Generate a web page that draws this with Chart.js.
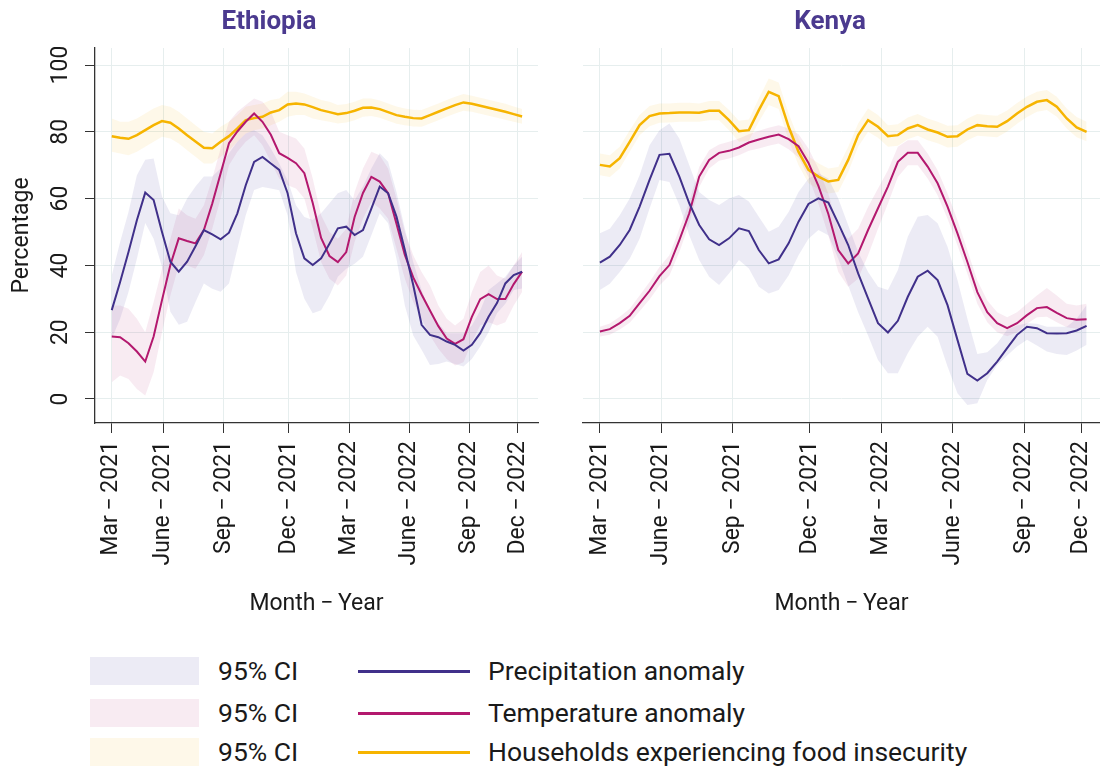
<!DOCTYPE html>
<html>
<head>
<meta charset="utf-8">
<script src="https://cdn.jsdelivr.net/npm/chart.js@4.4.0/dist/chart.umd.min.js"></script>
<style>
  body { margin: 0; background: #fff; font-family: Roboto, sans-serif; color: #1a1a1a; }
  #wrap { position: relative; width: 1100px; height: 771px; overflow: hidden; }
  canvas { position: absolute; top: 0; }
  #eth { left: 0; }
  #ken { left: 560px; }
  .sw, .ln, .lt { position: absolute; }
  .sw { left: 90px; width: 109px; height: 28px; }
  .ln { left: 358px; width: 112px; height: 2.5px; }
  .lt { font-size: 26.5px; line-height: 28px; height: 28px; white-space: nowrap; }
</style>
</head>
<body>
<div id="wrap">
  <canvas id="eth" width="560" height="640"></canvas>
  <canvas id="ken" width="540" height="640"></canvas>

  <div class="sw" style="top:657px;background:rgba(70,60,160,0.1)"></div>
  <div class="lt" style="left:218px;top:657px">95% CI</div>
  <div class="ln" style="top:670px;background:#40308a"></div>
  <div class="lt" style="left:488px;top:657px">Precipitation anomaly</div>

  <div class="sw" style="top:699px;background:rgba(180,30,110,0.09)"></div>
  <div class="lt" style="left:218px;top:699px">95% CI</div>
  <div class="ln" style="top:712px;background:#b3186e"></div>
  <div class="lt" style="left:488px;top:699px">Temperature anomaly</div>

  <div class="sw" style="top:738px;background:rgba(250,190,40,0.1)"></div>
  <div class="lt" style="left:218px;top:738px">95% CI</div>
  <div class="ln" style="top:751px;background:#f6b400"></div>
  <div class="lt" style="left:488px;top:738px">Households experiencing food insecurity</div>
</div>
<script>
// x axis: observation index 0..49, ticks placed where the month labels sit
const xTickPos = [0, 6.2, 13.4, 21.15, 28.35, 35.55, 42.75, 48.5];
const xTickLabels = ['Mar\u2009−\u20092021', 'June\u2009−\u20092021', 'Sep\u2009−\u20092021', 'Dec\u2009−\u20092021',
    'Mar\u2009−\u20092022', 'June\u2009−\u20092022', 'Sep\u2009−\u20092022', 'Dec\u2009−\u20092022'];
const yTickVals = [0, 20, 40, 60, 80, 100];

// Ethiopia
const ethPrecip = [26.6, 35.0, 44.0, 53.5, 61.8, 59.6, 50.0, 41.1, 38.1, 41.1, 45.7, 50.6, 49.3, 47.8, 49.8, 55.6, 64.0, 71.0, 72.5, 70.5, 68.6, 61.6, 49.6, 42.1, 40.1, 42.1, 46.5, 51.1, 51.6, 49.1, 50.6, 57.0, 63.6, 61.6, 54.6, 44.6, 34.1, 22.2, 19.2, 18.5, 17.2, 16.2, 14.5, 16.2, 19.7, 24.6, 28.7, 34.6, 37.1, 38.1];
const ethPrecipLo = [18, 24, 32, 42, 52.7, 48, 39.6, 26.1, 22.2, 23.1, 29, 34.6, 33, 32.1, 34.6, 45, 55, 62.6, 63.5, 63, 62.5, 55, 38, 30, 25.7, 26.6, 31, 36.6, 39, 40.5, 42.6, 49, 55.6, 52.6, 42, 28, 19, 14.7, 10.2, 10.5, 11.2, 10.5, 9.7, 12, 15.7, 20, 25.7, 28.5, 32.6, 33.1];
const ethPrecipHi = [37, 47, 56, 67, 71.6, 72, 60.6, 55.6, 55, 60, 63.6, 66.6, 66.6, 69, 73.6, 77, 79.5, 80.5, 79, 75, 70.5, 65.5, 58, 54.5, 53.6, 55.6, 58.6, 61.6, 62.6, 59.5, 63.6, 69, 73.6, 71, 62, 51, 41, 32.6, 26, 22.7, 19.7, 19.7, 19.7, 22, 26.5, 32.6, 34.6, 36.6, 40, 42.6];
const ethTemp = [18.7, 18.5, 16.7, 14.2, 11.2, 18.7, 29.6, 40.1, 48.1, 47.3, 46.6, 50.6, 58.5, 67.5, 76.6, 80.1, 83.0, 85.5, 83.0, 79.1, 73.6, 72.2, 70.6, 67.6, 58.7, 48.2, 42.8, 41.0, 44.0, 54.5, 61.7, 66.5, 65.1, 61.6, 52.5, 43.1, 36.4, 31.3, 26.5, 21.8, 18.1, 16.5, 17.9, 24.6, 29.9, 31.4, 29.9, 29.9, 34.4, 38.1];
const ethTempLo = [5, 7, 6, 3, 1, 8, 20, 31, 40, 40, 39, 43, 51, 60, 70, 74, 77, 79, 76, 71, 66, 64, 63, 60, 51, 41, 36, 34, 37, 47, 54, 59, 57, 54, 45, 36, 29, 24, 19, 15, 12, 10, 11, 17, 22, 23, 22, 23, 28, 32];
const ethTempHi = [28, 28, 27, 24, 20, 29, 39, 48, 57, 55, 54, 58, 66, 75, 83, 86, 88, 90, 89, 86, 80, 79, 78, 75, 66, 55, 50, 48, 51, 62, 69, 74, 73, 69, 60, 50, 43, 38, 34, 28, 24, 22, 24, 32, 38, 40, 37, 36, 40, 44];
const ethFood = [78.7, 78.2, 77.9, 79.0, 80.5, 82.0, 83.2, 82.7, 81.0, 79.0, 77.1, 75.2, 75.1, 77.0, 78.7, 81.0, 83.5, 84.1, 84.5, 85.8, 86.5, 88.2, 88.5, 88.2, 87.4, 86.5, 85.9, 85.3, 85.6, 86.3, 87.2, 87.3, 86.8, 85.9, 85.0, 84.5, 84.1, 84.0, 85.0, 86.0, 87.0, 88.0, 88.8, 88.4, 87.8, 87.2, 86.6, 86.0, 85.3, 84.6];
const ethFoodLo = [74, 73.5, 73, 74, 75.5, 77, 78.5, 78, 76.5, 74.5, 72.5, 70.5, 70.5, 72.5, 74.5, 77, 79.5, 80.5, 81, 82, 83, 84.5, 85, 85, 84, 83.5, 83, 82.5, 82.8, 83.5, 84.5, 84.7, 84.2, 83.3, 82.4, 82, 81.6, 81.5, 82.5, 83.5, 84.5, 85.5, 86.3, 86, 85.4, 84.8, 84.2, 83.6, 83, 82.4];
const ethFoodHi = [84, 83, 83, 84, 85.5, 87, 88, 87.5, 86, 84, 82, 80, 79.5, 81.5, 83, 85, 87.5, 88, 88.5, 89.5, 90, 92, 92, 91.5, 90.5, 89.5, 89, 88, 88.3, 89, 90, 90, 89.4, 88.5, 87.6, 87, 86.6, 86.5, 87.5, 88.5, 89.5, 90.5, 91.3, 90.8, 90.2, 89.6, 89, 88.4, 87.6, 86.8];

// Kenya
const kenPrecip = [40.8, 42.6, 46.1, 50.6, 57.6, 65.6, 73.1, 73.4, 66.6, 58.6, 52.1, 47.8, 46.1, 48.1, 51.1, 50.3, 44.6, 40.6, 41.8, 46.6, 53.1, 58.4, 60.1, 58.8, 52.6, 46.1, 37.6, 30.1, 22.7, 19.9, 23.4, 30.6, 36.6, 38.4, 35.6, 28.1, 17.7, 7.5, 5.5, 7.7, 11.2, 15.2, 19.2, 21.6, 21.2, 19.7, 19.6, 19.7, 20.5, 21.9];
const kenPrecipLo = [32.6, 34.5, 38, 42, 48, 57, 65.6, 65, 58, 49, 41.6, 36.6, 34.1, 37.6, 41.6, 39.1, 33.6, 31.6, 32.6, 37, 43, 48, 50.6, 49, 42, 34, 26, 19, 11.7, 7.7, 7.7, 13.7, 18.6, 21.6, 18.6, 9.7, 1.7, -1.8, -1.3, 5.7, 10.2, 13, 15.7, 17.7, 16, 14.2, 13.5, 13.2, 14.5, 16.2];
const kenPrecipHi = [49.6, 51, 55, 60, 67, 76, 80.5, 82.5, 78, 70, 62, 59.6, 58.1, 60, 61.1, 59.1, 54.6, 50.1, 51.6, 56, 62, 66, 67.6, 66, 60, 52, 44, 38, 33.6, 32.6, 38.6, 48.6, 54.6, 55.1, 52.6, 45.6, 35.6, 24, 13.5, 14, 16.7, 20.7, 22, 22.7, 22.5, 21.6, 21.6, 21.6, 24, 28.1];
const kenTemp = [20.2, 20.9, 22.7, 24.9, 28.7, 32.4, 36.8, 40.1, 47.6, 55.6, 66.6, 71.6, 73.7, 74.3, 75.3, 76.8, 77.7, 78.5, 79.2, 77.8, 75.7, 70.7, 63.8, 55.4, 44.6, 40.6, 43.6, 50.6, 57.1, 63.6, 71.0, 73.7, 73.7, 69.6, 64.6, 57.6, 49.6, 41.0, 32.0, 26.0, 22.7, 21.2, 22.7, 25.1, 27.2, 27.5, 25.8, 24.2, 23.7, 23.9];
const kenTempLo = [18.7, 19.2, 20.8, 22.8, 26.3, 29.8, 34, 37, 44, 52.5, 63.5, 69, 71.3, 72, 73, 74.3, 75, 75.8, 76.5, 74.8, 72.3, 66.5, 58.5, 49, 38, 33.6, 36, 43, 51, 58.5, 66.5, 70, 70, 66, 61, 54, 46, 37.5, 28.5, 23, 20, 18.8, 20, 22.5, 24.5, 24.6, 23, 21.5, 21, 21];
const kenTempHi = [21.6, 22.6, 24.6, 27, 31, 35, 39.5, 43, 51, 59, 69.5, 74.5, 76.2, 77, 78, 79.3, 80.3, 81.2, 82, 81, 79.3, 75, 69, 61.5, 51, 48, 51, 57.5, 63, 68.5, 75.5, 77.5, 77.5, 73.5, 68.5, 61.5, 53.5, 44.5, 35.5, 29.5, 26, 24.5, 26, 28.5, 31, 33.2, 31, 28.5, 28, 28.5];
const kenFood = [70.1, 69.6, 72.1, 77.0, 82.0, 84.7, 85.5, 85.6, 85.8, 85.8, 85.7, 86.3, 86.3, 83.5, 80.2, 80.5, 86.5, 92.0, 90.7, 81.5, 74.0, 68.6, 66.6, 65.1, 65.6, 71.6, 79.0, 83.5, 81.5, 78.7, 79.0, 81.0, 82.0, 80.7, 79.8, 78.5, 78.7, 80.7, 82.0, 81.7, 81.5, 83.2, 85.5, 87.5, 89.0, 89.5, 87.5, 84.0, 81.3, 80.0];
const kenFoodLo = [67, 66.5, 69, 74, 79, 81.7, 82.7, 82.8, 83, 83, 83, 83.5, 83.5, 80.5, 77, 77.3, 83, 88, 86.8, 77.5, 70, 64.6, 62.8, 61.5, 62, 68, 75.5, 80, 78.2, 75.5, 75.8, 77.8, 78.8, 77.5, 76.6, 75.3, 75.5, 77.5, 78.8, 78.6, 78.4, 80.1, 82.4, 84.4, 86, 86.5, 84.5, 81, 78.4, 77.2];
const kenFoodHi = [73.5, 73, 75.5, 80.5, 85, 87.7, 88.5, 88.5, 88.7, 88.7, 88.5, 89.2, 89.2, 86.5, 83.3, 83.7, 90, 96, 94.8, 85.5, 78, 72.6, 70.6, 69, 69.5, 75.5, 82.5, 87, 85, 82, 82.3, 84.3, 85.3, 84, 83, 81.8, 82, 84, 85.3, 85, 84.8, 86.4, 88.6, 90.6, 92, 92.5, 90.5, 87, 84.4, 83];

const colPrecip = '#40308a';
const colTemp = '#b3186e';
const colFood = '#f6b400';
const bandPrecip = 'rgba(70, 60, 160, 0.1)';
const bandTemp = 'rgba(180, 30, 110, 0.09)';
const bandFood = 'rgba(250, 190, 40, 0.1)';
const textColor = '#1a1a1a';
const gridColor = '#e6eeee';
const axisColor = '#333333';

const pts = (arr) => arr.map((v, i) => ({ x: i, y: v }));

const line = (label, arr, color, width) => ({
    label,
    data: pts(arr),
    borderColor: color,
    borderWidth: width,
    pointRadius: 0,
    tension: 0,
    fill: false,
    order: 0,
});

const band = (arr, color, fill) => ({
    data: pts(arr),
    borderWidth: 0,
    borderColor: 'rgba(0,0,0,0)',
    backgroundColor: color,
    pointRadius: 0,
    tension: 0,
    fill,
    order: 1,
});

const makePanel = (id, title, s, cfg) => {
    const font = { family: 'Roboto', size: 23 };
    new Chart(document.getElementById(id), {
        type: 'line',
        data: {
            datasets: [
                line('Precipitation anomaly', s.precip, colPrecip, 2),
                line('Temperature anomaly', s.temp, colTemp, 2),
                line('Households experiencing food insecurity', s.food, colFood, 2.5),
                band(s.precipHi, bandPrecip, false),
                band(s.precipLo, bandPrecip, '-1'),
                band(s.tempHi, bandTemp, false),
                band(s.tempLo, bandTemp, '-1'),
                band(s.foodHi, bandFood, false),
                band(s.foodLo, bandFood, '-1'),
            ],
        },
        options: {
            responsive: false,
            animation: false,
            layout: { padding: { left: 0, right: cfg.padRight, top: 0, bottom: 0 } },
            plugins: {
                legend: { display: false },
                tooltip: { enabled: false },
                title: {
                    display: true,
                    text: title,
                    color: '#4b3a8f',
                    font: { family: 'Roboto', size: 26, weight: 'bold' },
                    padding: { top: 7, bottom: 9.8 },
                },
            },
            scales: {
                x: {
                    type: 'linear',
                    min: cfg.xMin,
                    max: cfg.xMax,
                    afterBuildTicks: (sc) => { sc.ticks = xTickPos.map((v) => ({ value: v })); },
                    afterFit: (sc) => {
                        sc.height = 217;
                        sc.paddingLeft = 0;
                        sc.paddingRight = 0;
                    },
                    ticks: {
                        autoSkip: false,
                        minRotation: 90,
                        maxRotation: 90,
                        padding: 8,
                        color: textColor,
                        font,
                        callback: (v, i) => xTickLabels[i],
                    },
                    grid: { color: gridColor, tickColor: axisColor, tickLength: 10, lineWidth: 1 },
                    border: { display: true, color: axisColor, width: 1.3 },
                    title: {
                        display: true,
                        text: 'Month\u2009−\u2009Year',
                        color: textColor,
                        font,
                        padding: { top: 0, bottom: 22 },
                    },
                },
                y: {
                    min: -7.2,
                    max: 105.1,
                    afterBuildTicks: (sc) => { sc.ticks = yTickVals.map((v) => ({ value: v })); },
                    afterFit: (sc) => { sc.width = cfg.yWidth; },
                    ticks: {
                        display: cfg.showY,
                        minRotation: 90,
                        maxRotation: 90,
                        crossAlign: 'center',
                        padding: 4,
                        color: textColor,
                        font,
                    },
                    grid: { color: gridColor, tickColor: axisColor, tickLength: 10, drawTicks: cfg.showY, lineWidth: 1 },
                    border: { display: cfg.showY, color: axisColor, width: 1.3 },
                    title: {
                        display: cfg.showY,
                        text: 'Percentage',
                        color: textColor,
                        font,
                        padding: { top: 8, bottom: 0 },
                    },
                },
            },
        },
    });
};

makePanel('eth', 'Ethiopia', {
    precip: ethPrecip, precipLo: ethPrecipLo, precipHi: ethPrecipHi,
    temp: ethTemp, tempLo: ethTempLo, tempHi: ethTempHi,
    food: ethFood, foodLo: ethFoodLo, foodHi: ethFoodHi,
}, { xMin: -2.0, xMax: 50.9, yWidth: 95, showY: true, padRight: 22 });

makePanel('ken', 'Kenya', {
    precip: kenPrecip, precipLo: kenPrecipLo, precipHi: kenPrecipHi,
    temp: kenTemp, tempLo: kenTempLo, tempHi: kenTempHi,
    food: kenFood, foodLo: kenFoodLo, foodHi: kenFoodHi,
}, { xMin: -1.7, xMax: 50.35, yWidth: 23, showY: false, padRight: 0 });
</script>
</body>
</html>
